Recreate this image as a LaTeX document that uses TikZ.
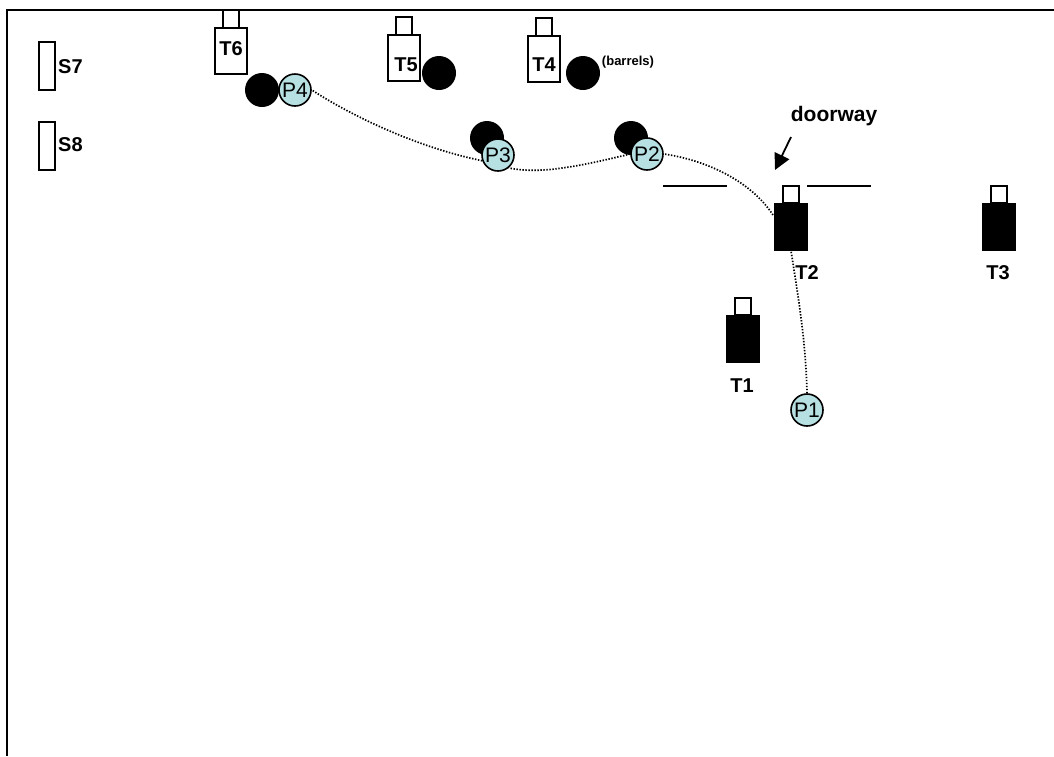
\documentclass[tikz,border=0pt]{standalone}
\usepackage{fontspec}
\setmainfont{Liberation Sans}
\usetikzlibrary{arrows.meta}
\definecolor{personblue}{HTML}{B7E0E3}
\tikzset{
  x=1pt,y=-1pt,
  blackline/.style={draw=black,line width=1.8pt},
  body/.style={blackline,rectangle,inner sep=0pt,minimum width=32pt,minimum height=46pt},
  bodyfill/.style={draw=black,fill=black,line width=0.4pt,rectangle,inner sep=0pt,minimum width=33pt,minimum height=47pt},
  neck/.style={blackline,rectangle,fill=white,inner sep=0pt,minimum width=16.5pt,minimum height=17.5pt},
  slab/.style={blackline,rectangle,inner sep=0pt,minimum width=16pt,minimum height=48pt},
  barrel/.style={circle,fill=black,inner sep=0pt,minimum size=34pt},
  person/.style={circle,draw=black,line width=1.6pt,fill=personblue,inner sep=0pt,minimum size=32pt,font=\fontsize{21}{21}\selectfont},
  lbl/.style={inner sep=0pt,font=\bfseries\fontsize{20}{20}\selectfont},
  doorlbl/.style={inner sep=0pt,font=\bfseries\fontsize{21}{21}\selectfont},
  small/.style={inner sep=0pt,font=\bfseries\fontsize{13}{13}\selectfont},
  route/.style={line width=1.7pt,black,dash pattern=on 1.4pt off 1.6pt},
  wall/.style={line width=1.8pt,black}
}
\begin{document}
\begin{tikzpicture}
\useasboundingbox (0,0) rectangle (1054,756);
\fill[white] (0,0) rectangle (1054,756);
% frame
\draw[line width=2.8pt] (7,756) -- (7,10) -- (1054,10);
% slabs
\node[slab] (s7box) at (47,66) {};
\node[slab] (s8box) at (47,146) {};
\node[lbl,anchor=west] (s7) at (58,67) {S7};
\node[lbl,anchor=west] (s8) at (58,145) {S8};
% white tanks
\node[neck] (n6) at (231,19) {};
\node[body] (b6) at (231,51) {};
\node[neck] (n5) at (404,26) {};
\node[body] (b5) at (404,58) {};
\node[neck] (n4) at (544,27) {};
\node[body] (b4) at (544,59) {};
\node[lbl] (t6) at (231,49) {T6};
\node[lbl] (t5) at (406,65) {T5};
\node[lbl] (t4) at (544,65) {T4};
% black tanks
\node[neck] (n2) at (791,194.5) {};
\node[bodyfill] (b2) at (791,227) {};
\node[neck] (n3) at (999,194.5) {};
\node[bodyfill] (b3) at (999,227) {};
\node[neck] (n1) at (743,306.5) {};
\node[bodyfill] (b1) at (743,339) {};
\node[lbl] (t2) at (807,273) {T2};
\node[lbl] (t3) at (998,273) {T3};
\node[lbl] (t1) at (742,386) {T1};
% barrels
\node[barrel] (k1) at (262,90) {};
\node[barrel] (k2) at (439,73) {};
\node[barrel] (k3) at (583,73) {};
\node[barrel] (k4) at (487,138) {};
\node[barrel] (k5) at (631,138) {};
\node[small] (barrels) at (628,62) {(barrels)};
% walls
\coordinate (w1a) at (663,186); \coordinate (w1b) at (727,186);
\coordinate (w2a) at (807,186); \coordinate (w2b) at (871,186);
\draw[wall] (w1a) -- (w1b);
\draw[wall] (w2a) -- (w2b);
% doorway
\node[doorlbl] (door) at (834,116) {doorway};
\coordinate (da) at (791,137); \coordinate (db) at (775,170);
\draw[line width=1.8pt,-{Triangle[length=16pt,width=16pt]}] (da) -- (db);
% persons
\node[person] (p1) at (807,410) {P1};
\node[person] (p2) at (647,154) {P2};
\node[person] (p3) at (498,155) {P3};
\node[person] (p4) at (295,90) {P4};
% route
\coordinate (b2w) at (773,215);
\draw[route] (p1.north) .. controls (806,340) and (797,290) .. (b2.south);
\draw[route] (b2w) .. controls (750,180) and (705,160) .. (p2.east);
\draw[route] (p2.west) .. controls (585,165) and (540,175) .. (p3.-50);
\draw[route] (p3.200) .. controls (420,148) and (355,118) .. (p4.east);
\end{tikzpicture}
\end{document}
